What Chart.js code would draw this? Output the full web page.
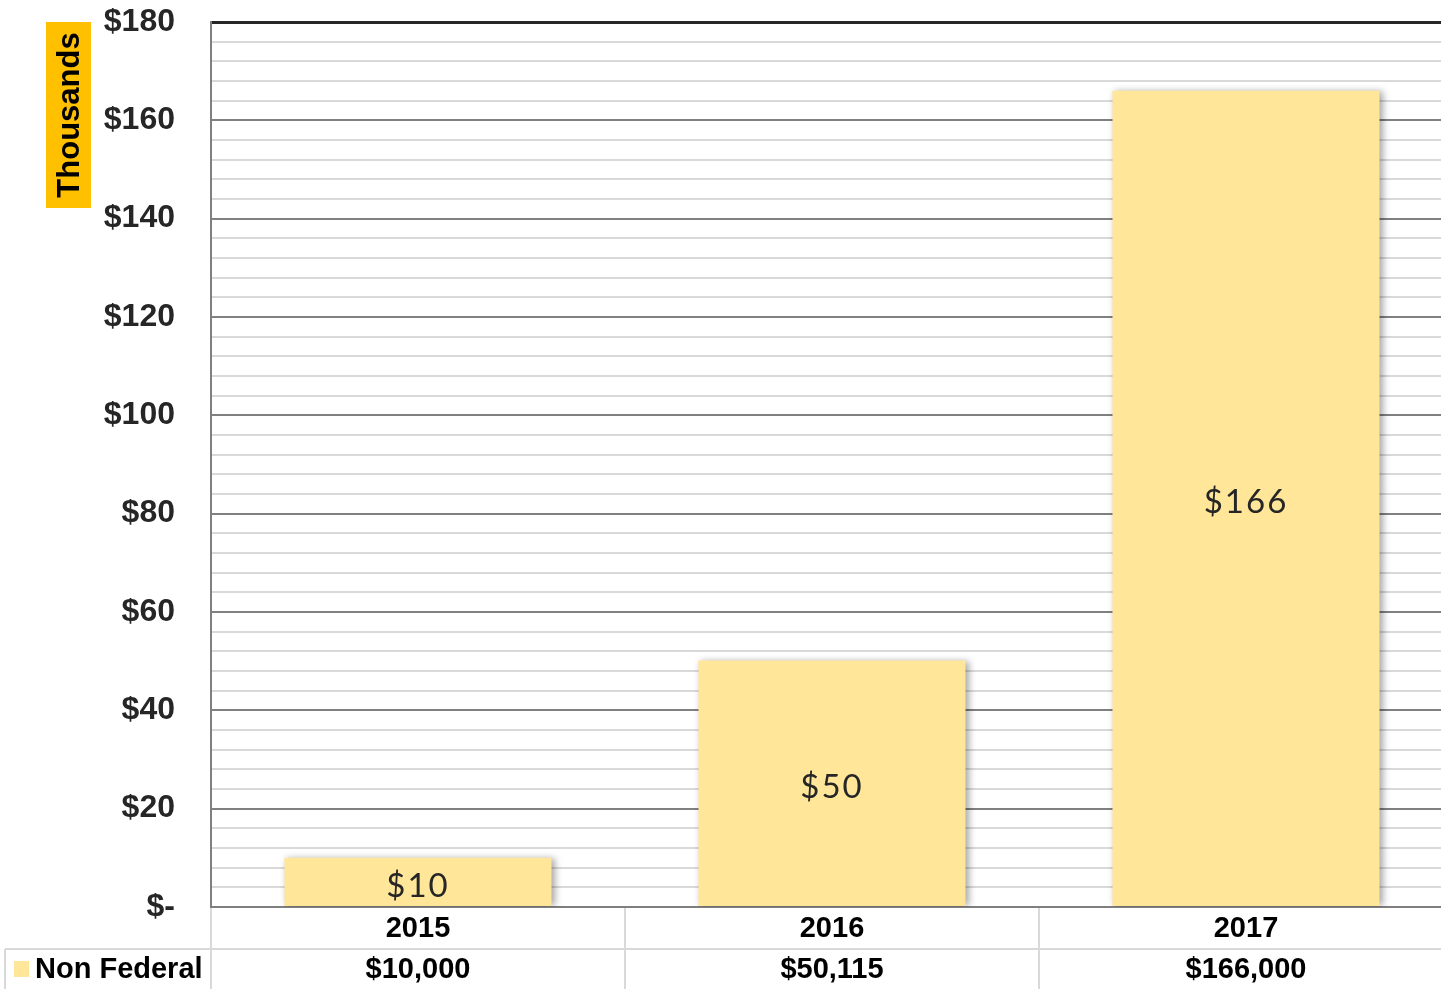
<!DOCTYPE html>
<html>
<head>
<meta charset="utf-8">
<script src="https://cdn.jsdelivr.net/npm/chart.js@4.4.1/dist/chart.umd.min.js"></script>
<style>
  html, body { margin: 0; padding: 0; background: #fff; overflow: hidden; }
  #wrap { position: absolute; left: 0; top: 0; width: 1460px; height: 989px; }
</style>
</head>
<body>
<div id="wrap"><canvas id="chart"></canvas></div>
<script>
// chart data
const years = ['2015', '2016', '2017'];
const nonFederal = [10000, 50115, 166000];   // dollars
const seriesName = 'Non Federal';
const axisTitle = 'Thousands';

const barColor = '#FFE699';
const tableFont = 'bold 29px "Liberation Sans", Arial, sans-serif';

// in-bar value labels, e.g. "$166"
const barLabels = {
  id: 'barLabels',
  afterDatasetsDraw(chart) {
    const ctx = chart.ctx;
    const meta = chart.getDatasetMeta(0);
    ctx.save();
    ctx.font = '33px Lato, "DejaVu Sans", sans-serif';
    ctx.letterSpacing = '2px';
    ctx.fillStyle = '#262626';
    ctx.textAlign = 'center';
    ctx.textBaseline = 'middle';
    meta.data.forEach((bar, i) => {
      const v = chart.data.datasets[0].data[i];
      ctx.fillText('$' + Math.round(v), bar.x, (bar.y + bar.base) / 2 + 4);
    });
    ctx.restore();
  }
};

// soft shadow behind the bars
const barShadow = {
  id: 'barShadow',
  beforeDatasetDraw(chart) {
    const ctx = chart.ctx;
    ctx.save();
    ctx.shadowColor = 'rgba(0,0,0,0.35)';
    ctx.shadowBlur = 7;
    ctx.shadowOffsetX = 3;
    ctx.shadowOffsetY = 0;
  },
  afterDatasetDraw(chart) {
    chart.ctx.restore();
  }
};

// data table under the plot + the "Thousands" box
const dataTable = {
  id: 'dataTable',
  afterDraw(chart) {
    const ctx = chart.ctx;
    const x = chart.scales.x;
    const area = chart.chartArea;
    const top = area.bottom;
    const mid = top + 42;
    const bottom = chart.height;
    const step = x.getPixelForValue(1) - x.getPixelForValue(0);

    ctx.save();
    ctx.strokeStyle = '#d9d9d9';
    ctx.lineWidth = 2;
    ctx.beginPath();
    ctx.moveTo(5, mid); ctx.lineTo(chart.width, mid);
    ctx.moveTo(5, mid); ctx.lineTo(5, bottom);
    for (let i = 0; i <= years.length; i++) {
      const px = x.getPixelForValue(i) - step / 2;
      ctx.moveTo(px, top + 1); ctx.lineTo(px, bottom);
    }
    ctx.stroke();

    ctx.font = tableFont;
    ctx.fillStyle = '#000';
    ctx.textAlign = 'center';
    ctx.textBaseline = 'middle';
    years.forEach((y, i) => {
      const px = x.getPixelForValue(i);
      ctx.fillText(y, px, top + 22);
      ctx.fillText('$' + nonFederal[i].toLocaleString('en-US'), px, mid + 21);
    });

    // legend key
    ctx.fillStyle = barColor;
    ctx.fillRect(14, mid + 12, 15, 16);
    ctx.fillStyle = '#000';
    ctx.textAlign = 'left';
    ctx.fillText(seriesName, 35, mid + 21);

    // axis title box
    ctx.fillStyle = '#FFC000';
    ctx.fillRect(46, area.top, 45, 186);
    ctx.translate(69, area.top + 93);
    ctx.rotate(-Math.PI / 2);
    ctx.fillStyle = '#000';
    ctx.textAlign = 'center';
    ctx.font = 'bold 31px "Liberation Sans", Arial, sans-serif';
    ctx.fillText(axisTitle, 0, 1);
    ctx.restore();
  }
};

new Chart(document.getElementById('chart'), {
  type: 'bar',
  data: {
    labels: years,
    datasets: [{
      label: seriesName,
      data: nonFederal.map(v => v / 1000),
      backgroundColor: barColor,
      borderWidth: 0,
      barPercentage: 0.645,
      categoryPercentage: 1
    }]
  },
  options: {
    responsive: true,
    maintainAspectRatio: false,
    animation: false,
    layout: { padding: { top: 22, right: 7, left: 0, bottom: 0 } },
    plugins: {
      legend: { display: false },
      tooltip: { enabled: false }
    },
    scales: {
      x: {
        grid: { display: false, drawTicks: false },
        border: { color: '#7f7f7f', width: 2 },
        ticks: { display: false },
        afterFit(scale) { scale.height = 82; }
      },
      y: {
        min: 0,
        max: 180,
        border: { color: '#7f7f7f', width: 2 },
        grid: {
          drawTicks: false,
          color: c => {
            const v = c.tick.value;
            if (v === 180) return '#262626';
            if (v === 0) return 'rgba(0,0,0,0)';
            return v % 20 === 0 ? '#808080' : '#d9d9d9';
          },
          lineWidth: c => (c.tick.value === 180 ? 3 : 2)
        },
        ticks: {
          stepSize: 4,
          maxTicksLimit: 100,
          autoSkip: false,
          padding: 36,
          color: '#262626',
          font: { family: '"Liberation Sans", Arial, sans-serif', size: 32, weight: 'bold' },
          callback: v => {
            if (v % 20 !== 0) return '';
            return v === 0 ? '$-' : '$' + v;
          }
        },
        afterFit(scale) {
          scale.width = 211;
          scale.paddingTop = 0;
          scale.paddingBottom = 0;
        }
      }
    }
  },
  plugins: [barShadow, barLabels, dataTable]
});
</script>
</body>
</html>
